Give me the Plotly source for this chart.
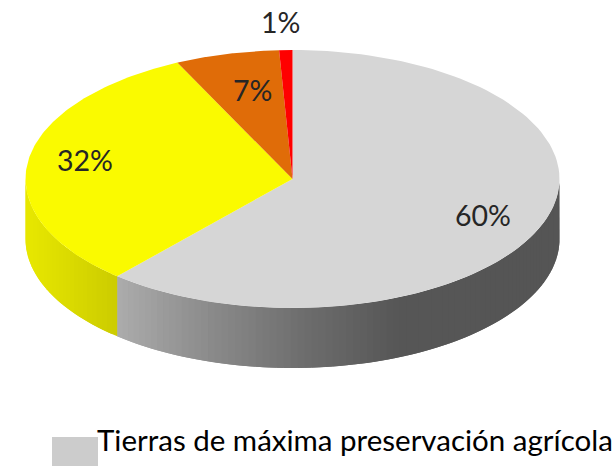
import numpy as np
import plotly.graph_objects as go

slice_values = [61.4, 31.5, 6.3, 0.8]
slice_labels = ["60%", "32%", "7%", "1%"]
slice_colors = ["#d6d6d6", "#fafa00", "#e06c08", "#ff0000"]
legend_name = "Tierras de máxima preservación agrícola"
legend_color = "#cccccc"

W, H = 616, 466
CX, CY, RX, RY, DEPTH = 292.5, 179, 267, 129, 60
FONT = "Lato, Carlito, sans-serif"

# wall shading stops (x pixel -> colour) per slice that shows a front wall
wall_stops = {
    0: ([117, 200, 308, 400, 560], [(172, 172, 172), (142, 142, 142), (108, 108, 108), (86, 86, 86), (85, 85, 85)]),
    1: ([25, 117], [(232, 232, 0), (204, 204, 0)]),
}


def pt(theta):
    return CX + RX * np.sin(theta), CY - RY * np.cos(theta)


fig = go.Figure()
edges = np.radians(np.concatenate([[0], np.cumsum(slice_values)]) / sum(slice_values) * 360)


def poly(xs, ys, color):
    fig.add_trace(go.Scatter(
        x=list(xs), y=list(ys), mode="lines", fill="toself", fillcolor=color,
        line=dict(color=color, width=0), hoverinfo="skip", showlegend=False,
    ))


# side wall: each strip runs one step past its end so the next one paints over the seam
for i, stops in wall_stops.items():
    a = max(edges[i], np.pi / 2)
    b = min(edges[i + 1], 3 * np.pi / 2)
    steps = np.linspace(a, b, max(2, int(np.degrees(b - a) / 1.5)) + 1)
    for n in range(len(steps) - 1):
        t = np.linspace(steps[n], steps[min(n + 2, len(steps) - 1)], 5)
        xa, ya = pt(t)
        mx = (pt(steps[n])[0] + pt(steps[n + 1])[0]) / 2
        rgb = [int(round(np.interp(mx, stops[0], [c[k] for c in stops[1]]))) for k in range(3)]
        color = f"rgb({rgb[0]},{rgb[1]},{rgb[2]})"
        poly(np.r_[xa, xa[::-1], xa[0]], np.r_[ya, ya[::-1] + DEPTH, ya[0]], color)

# top faces
for i, color in enumerate(slice_colors):
    th = np.linspace(edges[i], edges[i + 1], 120)
    x, y = pt(th)
    poly(np.r_[CX, x, CX], np.r_[CY, y, CY], color)

label_pos = [(483, 215), (85, 160), (252, 90), (280, 22)]
annotations = [
    dict(x=p[0], y=p[1], text=t, showarrow=False, xref="x", yref="y",
         font=dict(family=FONT, size=28.5, color="#262626"))
    for p, t in zip(label_pos, slice_labels)
]
annotations.append(dict(
    x=94.5, y=439.5, text=legend_name, showarrow=False, xref="x", yref="y", xanchor="left",
    font=dict(family=FONT, size=29.5, color="#000000"),
))

fig.update_layout(
    width=W, height=H, margin=dict(l=0, r=0, t=0, b=0),
    paper_bgcolor="white", plot_bgcolor="white", showlegend=False,
    xaxis=dict(range=[0, W], visible=False, fixedrange=True),
    yaxis=dict(range=[H, 0], visible=False, fixedrange=True),
    annotations=annotations,
    shapes=[dict(type="rect", x0=52, x1=98, y0=437, y1=466, fillcolor=legend_color,
                 line=dict(width=0), layer="below")],
)
fig.write_html("out.html", config={"displayModeBar": False},
               post_script="document.body.style.margin='0';document.documentElement.style.overflow='hidden';")
